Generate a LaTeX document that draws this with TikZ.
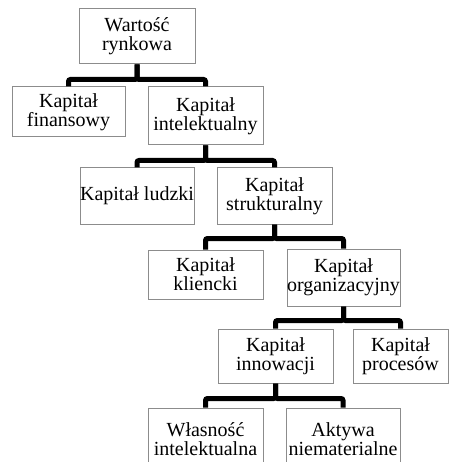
\documentclass[tikz,border=0pt]{standalone}
\usepackage{fontspec}
\setmainfont{Liberation Serif}
\begin{document}
\begin{tikzpicture}[x=1pt,y=-1pt,
  box/.style={draw=black!45, line width=1pt, fill=white, align=center, inner sep=0pt,
    font=\fontsize{20}{19}\selectfont},
  link/.style={line width=5pt, black, rounded corners=2pt}]
\clip (0,0) rectangle (460,462);
\fill[white] (0,0) rectangle (460,462);
\node[box, minimum width=116pt, minimum height=55pt] (a) at (137,36.5) {Wartość\\rynkowa};
\node[box, minimum width=113pt, minimum height=50pt] (b) at (68.5,112) {Kapitał\\finansowy};
\node[box, minimum width=115pt, minimum height=58pt] (c) at (205.5,116) {Kapitał\\intelektualny};
\node[box, minimum width=114pt, minimum height=56pt] (d) at (137,196) {Kapitał ludzki};
\node[box, minimum width=115pt, minimum height=56pt] (e) at (274.5,196) {Kapitał\\strukturalny};
\node[box, minimum width=115pt, minimum height=49pt] (f) at (205.5,274.5) {Kapitał\\kliencki};
\node[box, minimum width=113pt, minimum height=57pt] (g) at (343.5,277.5) {Kapitał\\organizacyjny};
\node[box, minimum width=115pt, minimum height=54pt] (h) at (275.5,356) {Kapitał\\innowacji};
\node[box, minimum width=95pt, minimum height=54pt] (i) at (400.5,356) {Kapitał\\procesów};
\node[box, minimum width=115pt, minimum height=62pt] (j) at (205.5,439) {Własność\\intelektualna};
\node[box, minimum width=114pt, minimum height=62pt] (k) at (343,439) {Aktywa\\niematerialne};
\draw[link] (a.south) -- ++(0,15) -| (b.north);
\draw[link] (a.south) -- ++(0,15) -| (c.north);
\draw[link] (c.south) -- ++(0,15) -| (d.north);
\draw[link] (c.south) -- ++(0,15) -| (e.north);
\draw[link] (e.south) -- ++(0,14) -| (f.north);
\draw[link] (e.south) -- ++(0,14) -| (g.north);
\draw[link] (g.south) -- ++(0,14) -| (h.north);
\draw[link] (g.south) -- ++(0,14) -| (i.north);
\draw[link] (h.south) -- ++(0,15) -| (j.north);
\draw[link] (h.south) -- ++(0,15) -| (k.north);
\end{tikzpicture}
\end{document}
